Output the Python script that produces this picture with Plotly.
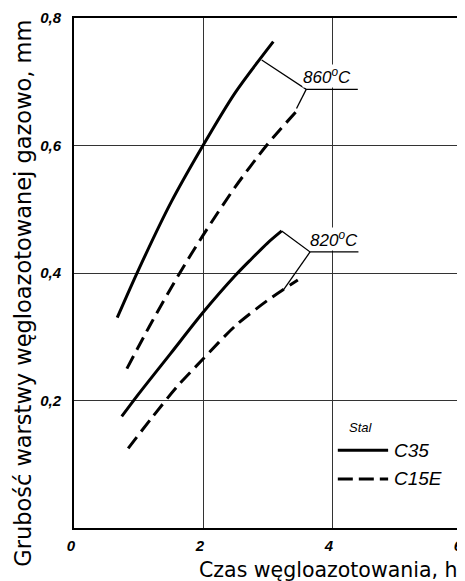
import plotly.graph_objects as go

# Data
c35_860_x = [0.67, 1.0, 1.5, 2.0, 2.5, 3.09]
c35_860_y = [0.33, 0.405, 0.51, 0.60, 0.683, 0.763]
c15e_860_x = [0.82, 1.2, 1.64, 2.0, 2.5, 3.0, 3.47]
c15e_860_y = [0.25, 0.322, 0.40, 0.459, 0.535, 0.602, 0.656]
c35_820_x = [0.74, 1.0, 1.5, 2.0, 2.5, 2.75, 3.0, 3.22]
c35_820_y = [0.175, 0.21, 0.274, 0.338, 0.396, 0.422, 0.447, 0.466]
c15e_820_x = [0.84, 1.2, 1.6, 2.0, 2.5, 3.0, 3.47]
c15e_820_y = [0.125, 0.172, 0.222, 0.265, 0.317, 0.357, 0.389]

x_ticks = [0, 2, 4, 6]
x_tick_labels = ["0", "2", "4", "6"]
y_ticks = [0, 0.2, 0.4, 0.6, 0.8]
y_tick_labels = ["", "0,2", "0,4", "0,6", "0,8"]

# leader lines for temperature labels
lead_860_x = [2.91, 3.60, 4.40]
lead_860_y = [0.734, 0.688, 0.688]
lead_860b_x = [3.60, 3.45]
lead_860b_y = [0.688, 0.658]
lead_820_x = [3.22, 3.66, 4.41]
lead_820_y = [0.466, 0.433, 0.433]
lead_820b_x = [3.66, 3.245]
lead_820b_y = [0.433, 0.373]

legend_x = [4.09, 4.87]
legend_c35_y = [0.122, 0.122]
legend_c15e_y = [0.077, 0.077]

DASH = "14px,7px"
fig = go.Figure()

def curve(x, y, dash):
    fig.add_trace(go.Scatter(x=x, y=y, mode="lines", line_shape="spline",
                             line=dict(color="black", width=3, dash=dash, smoothing=0.8),
                             showlegend=False, hoverinfo="skip"))

curve(c35_860_x, c35_860_y, "solid")
curve(c15e_860_x, c15e_860_y, DASH)
curve(c35_820_x, c35_820_y, "solid")
curve(c15e_820_x, c15e_820_y, DASH)

for lx, ly in [(lead_860_x, lead_860_y), (lead_860b_x, lead_860b_y),
               (lead_820_x, lead_820_y), (lead_820b_x, lead_820b_y)]:
    fig.add_trace(go.Scatter(x=lx, y=ly, mode="lines",
                             line=dict(color="black", width=1.3),
                             showlegend=False, hoverinfo="skip"))

# legend lines
fig.add_trace(go.Scatter(x=legend_x, y=legend_c35_y, mode="lines",
                         line=dict(color="black", width=3), showlegend=False, hoverinfo="skip"))
fig.add_trace(go.Scatter(x=legend_x, y=legend_c15e_y, mode="lines",
                         line=dict(color="black", width=3, dash="15px,6px"),
                         showlegend=False, hoverinfo="skip"))

lab_font = dict(family="Liberation Sans", size=17, color="black", style="italic")
fig.add_annotation(x=3.93, y=0.690, text="860<sup>o</sup>C", showarrow=False,
                   xanchor="center", yanchor="bottom", font=lab_font, bgcolor="white",
                   borderpad=0)
fig.add_annotation(x=4.03, y=0.435, text="820<sup>o</sup>C", showarrow=False,
                   xanchor="center", yanchor="bottom", font=lab_font, bgcolor="white",
                   borderpad=0)
fig.add_annotation(x=4.45, y=0.158, text="Stal", showarrow=False, xanchor="center",
                   font=dict(family="Liberation Sans", size=13, color="black", style="italic"))
fig.add_annotation(x=4.93, y=legend_c35_y[0], text="C35", showarrow=False, xanchor="left",
                   font=dict(family="Liberation Sans", size=19, color="black", style="italic"))
fig.add_annotation(x=4.93, y=legend_c15e_y[0], text="C15E", showarrow=False, xanchor="left",
                   font=dict(family="Liberation Sans", size=19, color="black", style="italic"))

# axis titles
fig.add_annotation(xref="paper", yref="paper", x=0.658, y=-0.082, xanchor="center",
                   yanchor="middle",
                   text="Czas węgloazotowania, h", showarrow=False,
                   font=dict(family="DejaVu Sans", size=20.5, color="black"))
fig.add_annotation(xref="paper", yref="paper", x=-0.132, y=0.461,
                   xanchor="center", yanchor="middle",
                   text="Grubość warstwy węgloazotowanej gazowo, mm", showarrow=False,
                   textangle=-90, font=dict(family="DejaVu Sans", size=22.5, color="black"))

tick_font = dict(family="Liberation Sans", size=15, color="black", style="italic", weight="bold")
fig.update_xaxes(range=[0, 6], tickvals=x_ticks, ticktext=x_tick_labels,
                 showgrid=True, gridcolor="#333333", gridwidth=1,
                 showline=True, linecolor="black", linewidth=2, mirror=True,
                 zeroline=False, ticks="", tickfont=tick_font, ticklabelstandoff=3,
                 ticklabelshift=-3, ticklabeloverflow="allow", automargin=False)
fig.update_yaxes(range=[0, 0.8], tickvals=y_ticks, ticktext=y_tick_labels,
                 showgrid=True, gridcolor="#333333", gridwidth=1,
                 showline=True, linecolor="black", linewidth=2, mirror=True,
                 zeroline=False, ticks="", tickfont=tick_font, ticklabelstandoff=8,
                 automargin=False)

# the page body adds an 8px offset, so the figure is sized to fill the 465x581 window
fig.update_layout(width=457, height=573, margin=dict(l=66, r=4, t=10, b=53),
                  plot_bgcolor="white", paper_bgcolor="white", showlegend=False)

fig.write_html("out.html")
